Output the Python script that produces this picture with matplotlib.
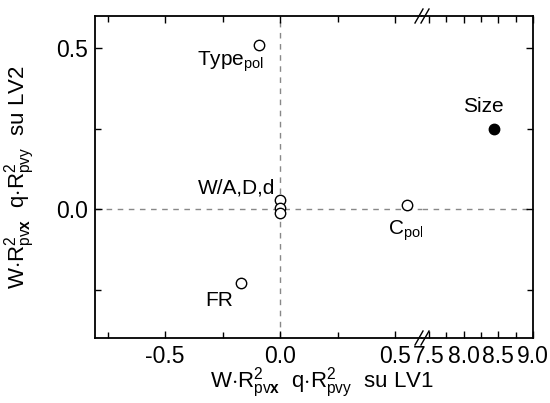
import matplotlib
matplotlib.use("Agg")
import matplotlib.pyplot as plt
from matplotlib.ticker import MultipleLocator, FuncFormatter
from matplotlib.lines import Line2D

plt.rcParams['font.family'] = ['Liberation Sans', 'DejaVu Sans']
plt.rcParams['mathtext.fontset'] = 'custom'
plt.rcParams['mathtext.rm'] = 'Liberation Sans'
plt.rcParams['mathtext.it'] = 'Liberation Sans:italic'
plt.rcParams['mathtext.bf'] = 'Liberation Sans:bold'

# data
open_names = ["Type$_{\\mathrm{pol}}$", "FR", "W/A", "D", "d", "C$_{\\mathrm{pol}}$"]
open_x = [-0.09, -0.17, 0.0, 0.0, 0.0, 0.55]
open_y = [0.51, -0.23, 0.03, 0.005, -0.012, 0.013]
filled_names = ["Size"]
filled_x = [8.43]
filled_y = [0.25]

W, H = 550, 403
fig = plt.figure(figsize=(W/100, H/100), dpi=100)
left, right, bot, top, brk = 95, 533, 338, 16, 422
ax1 = fig.add_axes([left/W, 1-bot/H, (brk-left)/W, (bot-top)/H])
ax2 = fig.add_axes([brk/W, 1-bot/H, (right-brk)/W, (bot-top)/H], sharey=ax1)

ax1.set_xlim(-0.805, 0.617)
ax2.set_xlim(7.397, 9.0)
ax1.set_ylim(-0.40, 0.60)

fmt = FuncFormatter(lambda v, p: f"{v:.1f}".replace('-0.0', '0.0'))
for ax in (ax1, ax2):
    ax.axhline(0, color='#888888', ls=(0, (4, 4)), lw=1.0, zorder=1)
    ax.xaxis.set_major_locator(MultipleLocator(0.5))
    ax.xaxis.set_minor_locator(MultipleLocator(0.25))
    ax.yaxis.set_major_locator(MultipleLocator(0.5))
    ax.yaxis.set_minor_locator(MultipleLocator(0.25))
    ax.tick_params(which='both', direction='in', top=True, labelsize=16.5, width=1.0, pad=5)
    ax.tick_params(which='major', length=5)
    ax.tick_params(which='minor', length=4)
    ax.xaxis.set_major_formatter(fmt)
    ax.yaxis.set_major_formatter(fmt)
    for s in ax.spines.values():
        s.set_linewidth(1.3)

ax1.axvline(0, color='#888888', ls=(0, (4, 4)), lw=1.0, zorder=1)
ax1.spines['right'].set_visible(False)
ax2.spines['left'].set_visible(False)
ax1.tick_params(which='both', right=False)
ax2.tick_params(which='both', left=False, right=True, labelleft=False)

ax1.plot(open_x, open_y, 'o', ms=7.5, mfc='white', mec='black', mew=1.0, zorder=3, clip_on=False)
ax2.plot(filled_x, filled_y, 'o', ms=7.5, mfc='black', mec='black', zorder=3)

fs = 15
ax1.text(-0.07, 0.497, open_names[0], fontsize=fs, ha='right', va='top')
ax1.text(-0.204, -0.255, open_names[1], fontsize=fs, ha='right', va='top')
ax1.text(-0.022, 0.035, "W/A,D,d", fontsize=fs, ha='right', va='bottom')
ax1.text(0.47, -0.03, open_names[5], fontsize=fs, ha='left', va='top')
ax2.text(8.28, 0.29, filled_names[0], fontsize=fs, ha='center', va='bottom')

# axis break marks
for yy in (top, bot):
    for dx in (-3, 3):
        x0 = brk + dx
        fig.add_artist(Line2D([(x0 - 4)/W, (x0 + 4)/W], [1-(yy+7)/H, 1-(yy-7)/H],
                              color='black', lw=1.0))

lbl = r"W$\cdot$R$^2_{\mathrm{pv}\mathbf{x}}$  q$\cdot$R$^2_{\mathrm{pvy}}$  su "
fig.text(322/W, 1-383/H, lbl + "LV1", fontsize=16, ha='center', va='center')
fig.text(20/W, 1-177/H, lbl + "LV2", fontsize=16, ha='center', va='center', rotation=90)

fig.savefig("out.png", dpi=100)
